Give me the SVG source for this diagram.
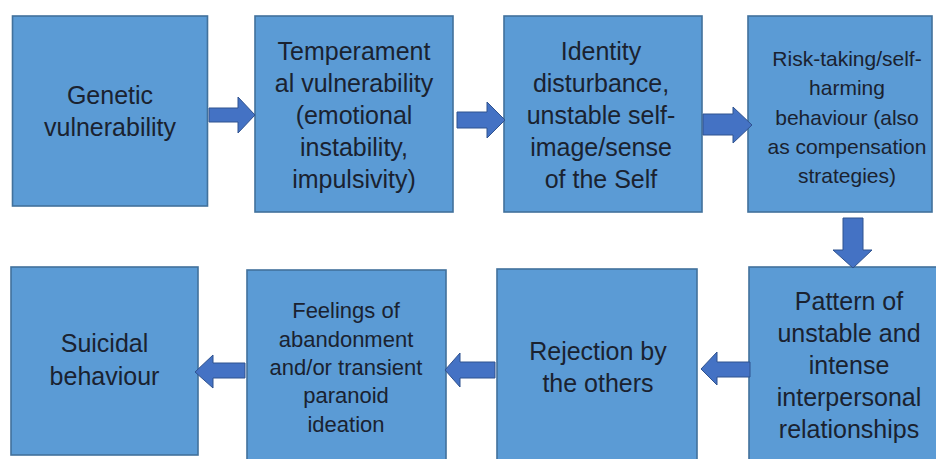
<svg xmlns="http://www.w3.org/2000/svg" width="936" height="459" viewBox="0 0 936 459">
<style>
.box{fill:#5B9BD5;stroke:#41719C;stroke-width:1.6}
.t{font-family:"Liberation Sans",Arial,sans-serif;font-size:25px;fill:#1a2230;text-anchor:middle}
.s{font-size:21px}
.m{font-size:22px}
.arr{fill:#4472C4;stroke:#2F528F;stroke-width:1}
</style>
<rect width="936" height="459" fill="#ffffff"/>
<g id="n1"><rect class="box" x="12.5" y="16" width="195" height="190"/>
<text class="t" x="110" y="104">Genetic</text><text class="t" x="110" y="136">vulnerability</text></g>
<g id="n2"><rect class="box" x="255" y="16" width="198" height="196"/>
<text class="t" x="354" y="60">Temperament</text><text class="t" x="354" y="92">al vulnerability</text><text class="t" x="354" y="124">(emotional</text><text class="t" x="354" y="156">instability,</text><text class="t" x="354" y="188">impulsivity)</text></g>
<g id="n3"><rect class="box" x="504" y="16" width="198" height="196"/>
<text class="t" x="601" y="60">Identity</text><text class="t" x="601" y="92">disturbance,</text><text class="t" x="601" y="124">unstable self-</text><text class="t" x="601" y="156">image/sense</text><text class="t" x="601" y="188">of the Self</text></g>
<g id="n4"><rect class="box" x="748" y="16" width="184" height="196"/>
<text class="t s" x="847" y="66">Risk-taking/self-</text><text class="t s" x="847" y="95">harming</text><text class="t s" x="847" y="125">behaviour (also</text><text class="t s" x="847" y="154">as compensation</text><text class="t s" x="847" y="183">strategies)</text></g>
<g id="n5"><rect class="box" x="749" y="267" width="195" height="200"/>
<text class="t" x="849" y="310">Pattern of</text><text class="t" x="849" y="342">unstable and</text><text class="t" x="849" y="374">intense</text><text class="t" x="849" y="406">interpersonal</text><text class="t" x="849" y="438">relationships</text></g>
<g id="n6"><rect class="box" x="497" y="269" width="200" height="196"/>
<text class="t" x="598" y="360">Rejection by</text><text class="t" x="598" y="392">the others</text></g>
<g id="n7"><rect class="box" x="247" y="270" width="199" height="196"/>
<text class="t m" x="346" y="318">Feelings of</text><text class="t m" x="346" y="347">abandonment</text><text class="t m" x="346" y="375">and/or transient</text><text class="t m" x="346" y="403">paranoid</text><text class="t m" x="346" y="432">ideation</text></g>
<g id="n8"><rect class="box" x="11" y="267" width="187" height="188"/>
<text class="t" x="104.5" y="352">Suicidal</text><text class="t" x="104.5" y="385">behaviour</text></g>
<g id="connectors">
<polygon class="arr" points="209,108 238,108 238,97 255,115 238,133 238,122 209,122"/>
<polygon class="arr" points="457,112 487,112 487,102 505,120 487,138 487,128 457,128"/>
<polygon class="arr" points="703,114 733,114 733,107 752,125 733,143 733,135 703,135"/>
<polygon class="arr" points="843,218 863,218 863,250 872,250 853,268 833,250 843,250"/>
<polygon class="arr" points="750,362 717,362 717,352 701,369 717,385 717,377 750,377"/>
<polygon class="arr" points="495,362 460,362 460,353 445,370 460,387 460,378 495,378"/>
<polygon class="arr" points="245,363 213,363 213,355 195,372 213,388 213,378 245,378"/>
</g>
</svg>
